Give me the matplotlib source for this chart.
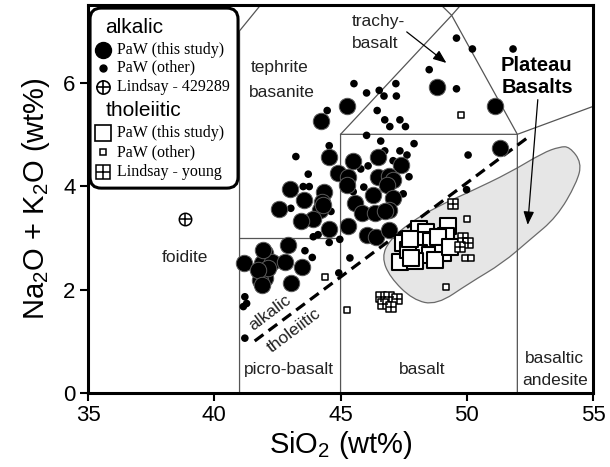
import matplotlib
matplotlib.use("Agg")
import matplotlib.pyplot as plt
from matplotlib.patches import FancyBboxPatch, PathPatch
from matplotlib.path import Path

plt.rcParams['font.family'] = ['Liberation Sans', 'DejaVu Sans']
plt.rcParams['mathtext.fontset'] = 'custom'
plt.rcParams['mathtext.rm'] = 'Liberation Sans'
plt.rcParams['mathtext.it'] = 'Liberation Sans:italic'

# ---- data: SiO2 (wt%) and Na2O + K2O (wt%) ----
alk_study_si = [41.19, 42.00, 41.87, 42.27, 42.00, 41.81, 42.80, 42.93, 43.47, 43.02,
                41.94, 42.12, 41.73, 41.89, 42.99, 42.57, 43.55, 44.34, 44.25, 44.18,
                43.89, 43.42, 44.55, 44.55, 44.22, 45.30, 45.24, 45.50, 46.50, 47.41,
                44.90, 45.30, 45.24, 46.49, 46.92, 47.08, 46.82, 45.57, 46.29, 47.06,
                45.83, 46.36, 46.92, 46.03, 46.42, 46.92, 48.80, 51.13, 51.30, 46.75,
                44.31]
alk_study_k = [2.51, 2.71, 2.51, 2.54, 2.22, 2.19, 2.54, 2.86, 2.44, 2.12,
               2.77, 2.42, 2.38, 2.09, 3.94, 3.56, 3.73, 3.89, 3.70, 3.54,
               3.36, 3.33, 3.17, 4.56, 5.26, 3.22, 5.55, 4.49, 4.56, 4.41,
               4.25, 4.17, 4.02, 4.17, 4.20, 4.11, 4.02, 3.67, 3.83, 3.77,
               3.48, 3.48, 3.54, 3.06, 3.02, 3.15, 5.91, 5.55, 4.73, 3.51,
               3.64]

alk_other_si = [41.21, 41.28, 41.15, 41.21, 44.93, 43.59, 43.88, 43.23, 43.72, 43.52,
                43.76, 43.03, 44.62, 43.92, 44.11, 44.55, 44.97, 44.55, 46.03, 45.53,
                46.03, 46.53, 46.72, 47.21, 47.19, 46.45, 46.75, 47.35, 46.95, 47.57,
                46.59, 46.75, 47.35, 47.08, 47.91, 47.63, 45.80, 46.09, 47.71, 45.92,
                45.50, 47.48, 44.47, 49.59, 50.05, 49.59, 50.22, 51.83, 48.51, 49.99,
                45.37]
alk_other_k = [1.86, 1.73, 1.67, 1.06, 2.32, 2.75, 2.62, 4.57, 4.23, 3.99,
               3.99, 3.57, 3.51, 3.02, 3.06, 2.91, 2.97, 4.78, 4.98, 5.98,
               5.80, 5.85, 5.74, 5.74, 5.98, 5.46, 5.28, 5.28, 5.15, 5.15,
               4.87, 4.68, 4.68, 4.49, 4.82, 4.60, 4.33, 4.39, 4.18, 3.98,
               3.89, 3.85, 5.46, 5.88, 4.60, 6.86, 6.65, 6.65, 6.25, 3.93,
               2.61]

lindsay_429289_si = [38.84]
lindsay_429289_k = [3.37]

thol_study_si = [47.35, 47.48, 48.11, 48.40, 48.24, 48.60, 49.26, 49.17, 48.86, 48.11,
                 48.53, 49.06, 48.73, 47.94, 47.67, 47.77, 49.32, 47.74]
thol_study_k = [2.54, 2.90, 3.17, 3.12, 2.95, 2.93, 3.22, 3.04, 3.02, 2.70,
                2.67, 2.71, 2.57, 2.56, 2.77, 2.61, 2.83, 2.98]

thol_other_si = [44.38, 45.24, 49.75, 50.02, 49.92, 50.18, 49.19]
thol_other_k = [2.24, 1.61, 5.38, 3.36, 2.61, 2.61, 2.04]

lindsay_young_si = [49.45, 49.85, 50.05, 49.72, 46.59, 46.91, 47.25, 46.67, 47.01]
lindsay_young_k = [3.66, 2.99, 2.90, 2.83, 1.86, 1.86, 1.82, 1.72, 1.67]

# Plateau basalt field outline (SiO2, total alkalis)
plateau_si = [54.07, 54.55, 54.35, 53.56, 52.49, 51.42, 50.12, 48.81, 47.86, 46.95,
              46.63, 46.95, 47.74, 48.81, 50.12, 51.70, 53.00, 53.68]
plateau_k = [4.76, 4.45, 4.06, 3.40, 2.96, 2.51, 2.13, 1.70, 1.80, 2.24,
             2.63, 2.96, 3.29, 3.60, 3.89, 4.26, 4.64, 4.76]

# TAS classification boundaries (Le Bas et al. 1986)
tas_lines = [
    ([41, 41, 45], [0, 7, 9.4]),
    ([41, 45], [3, 3]),
    ([45, 45, 49.4, 52, 52], [0, 5, 7.3, 5, 0]),
    ([45, 52, 57], [5, 5, 5.9]),
    ([45, 49.4, 53], [9.4, 7.3, 9.3]),
]
# alkalic / tholeiitic divide (Macdonald & Katsura 1964)
divide_si = [41.6, 52.5]
divide_k = [0.35 + 0.3638 * (s - 39.8) for s in divide_si]

fig = plt.figure(figsize=(6.10, 4.67), dpi=100)
ax = fig.add_axes([0.1443, 0.1585, 0.828, 0.8308])
ax.set_xlim(35, 55)
ax.set_ylim(0, 7.5)

# Plateau basalt field as a smooth closed curve
n = len(plateau_si)
pts = list(zip(plateau_si, plateau_k))
mid = lambda a, b: ((a[0] + b[0]) / 2, (a[1] + b[1]) / 2)
verts = [mid(pts[-1], pts[0])]
codes = [Path.MOVETO]
for i in range(n):
    verts += [pts[i], mid(pts[i], pts[(i + 1) % n])]
    codes += [Path.CURVE3, Path.CURVE3]
ax.add_patch(PathPatch(Path(verts, codes), facecolor='#e6e6e6',
                       edgecolor='#6a6a6a', lw=0.9, zorder=1))

for xs, ys in tas_lines:
    ax.plot(xs, ys, color='#555555', lw=0.9, zorder=2)

ax.plot(divide_si, divide_k, color='black', lw=2.3, ls=(0, (3.4, 2.0)), zorder=3)

# samples
ax.scatter(alk_other_si, alk_other_k, s=30, c='black', edgecolors='none', zorder=5)
ax.scatter(alk_study_si, alk_study_k, s=140, c='black', edgecolors='#5a5a5a',
           linewidths=0.7, zorder=6)
ax.scatter(thol_other_si, thol_other_k, s=24, marker='s', facecolors='white',
           edgecolors='black', linewidths=1.1, zorder=5)
ax.scatter(thol_study_si, thol_study_k, s=130, marker='s', facecolors='white',
           edgecolors='black', linewidths=1.5, zorder=6)
ax.scatter(lindsay_young_si, lindsay_young_k, s=62, marker='s', facecolors='white',
           edgecolors='black', linewidths=1.1, zorder=7)
ax.scatter(lindsay_young_si, lindsay_young_k, s=62, marker='+', c='black',
           linewidths=1.1, zorder=7)
ax.scatter(lindsay_429289_si, lindsay_429289_k, s=80, marker='o', facecolors='white',
           edgecolors='black', linewidths=1.1, zorder=7)
ax.scatter(lindsay_429289_si, lindsay_429289_k, s=80, marker='+', c='black',
           linewidths=1.1, zorder=7)

# field names
lab = dict(fontsize=12.5, color='#222222', ha='center', va='center', zorder=4)
ax.text(42.6, 6.29, 'tephrite', **lab)
ax.text(42.68, 5.80, 'basanite', **lab)
ax.text(46.48, 7.18, 'trachy-', **lab)
ax.text(46.38, 6.75, 'basalt', **lab)
ax.text(38.84, 2.61, 'foidite', **lab)
ax.text(42.95, 0.46, 'picro-basalt', **lab)
ax.text(48.24, 0.46, 'basalt', **lab)
ax.text(53.48, 0.66, 'basaltic', **lab)
ax.text(53.48, 0.25, 'andesite', **lab)
ax.text(42.22, 1.56, 'alkalic', rotation=37, **lab)
ax.text(43.18, 1.20, 'tholeiitic', rotation=37, **lab)
ax.text(52.77, 6.34, 'Plateau', fontsize=14.5, fontweight='bold', ha='center',
        va='center', color='black')
ax.text(52.81, 5.90, 'Basalts', fontsize=14.5, fontweight='bold', ha='center',
        va='center', color='black')

arrow = dict(arrowstyle='-|>,head_length=0.8,head_width=0.32', color='black',
             lw=0.9, shrinkA=0, shrinkB=0)
ax.annotate('', xy=(52.41, 3.25), xytext=(52.81, 5.67), arrowprops=arrow, zorder=4)
ax.annotate('', xy=(49.19, 6.38), xytext=(47.62, 6.98), arrowprops=arrow, zorder=4)

# key box
box = FancyBboxPatch((0.004, 0.528), 0.293, 0.464,
                     boxstyle='round,pad=0,rounding_size=0.022', mutation_aspect=1.30,
                     transform=ax.transAxes, facecolor='white', edgecolor='black',
                     lw=2.2, zorder=10)
ax.add_patch(box)
head = dict(transform=ax.transAxes, fontsize=15, ha='left', va='center', zorder=11)
item = dict(transform=ax.transAxes, fontsize=11.5, ha='left', va='center', zorder=11,
            family=['Liberation Serif', 'DejaVu Serif'])
ax.text(0.034, 0.943, 'alkalic', **head)
ax.text(0.034, 0.729, 'tholeiitic', **head)
kx, tx = 0.030, 0.057
rows = [0.884, 0.838, 0.789, 0.670, 0.621, 0.570]
names = ['PaW (this study)', 'PaW (other)', 'Lindsay - 429289',
         'PaW (this study)', 'PaW (other)', 'Lindsay - young']
for y, name in zip(rows, names):
    ax.text(tx, y, name, **item)
mk = dict(transform=ax.transAxes, zorder=11, clip_on=False)
ax.plot(kx, rows[0], 'o', ms=11.5, mfc='black', mec='black', **mk)
ax.plot(kx, rows[1], 'o', ms=5, mfc='black', mec='black', **mk)
ax.plot(kx, rows[2], 'o', ms=9.5, mfc='white', mec='black', mew=1.2, **mk)
ax.plot(kx, rows[2], '+', ms=9.5, mec='black', mew=1.2, **mk)
ax.plot(kx, rows[3], 's', ms=11.5, mfc='white', mec='black', mew=1.2, **mk)
ax.plot(kx, rows[4], 's', ms=5, mfc='white', mec='black', mew=1.1, **mk)
ax.plot(kx, rows[5], 's', ms=9.5, mfc='white', mec='black', mew=1.1, **mk)
ax.plot(kx, rows[5], '+', ms=9.5, mec='black', mew=1.1, **mk)

ax.set_xticks([35, 40, 45, 50, 55])
ax.set_yticks([0, 2, 4, 6])
ax.tick_params(direction='out', length=6, width=1.5, labelsize=16, pad=3)
for sp in ax.spines.values():
    sp.set_linewidth(2.2)
ax.set_xlabel('SiO$_2$ (wt%)', fontsize=21, labelpad=2)
ax.set_ylabel('Na$_2$O + K$_2$O (wt%)', fontsize=21, labelpad=8)

fig.savefig('out.png', dpi=100)
